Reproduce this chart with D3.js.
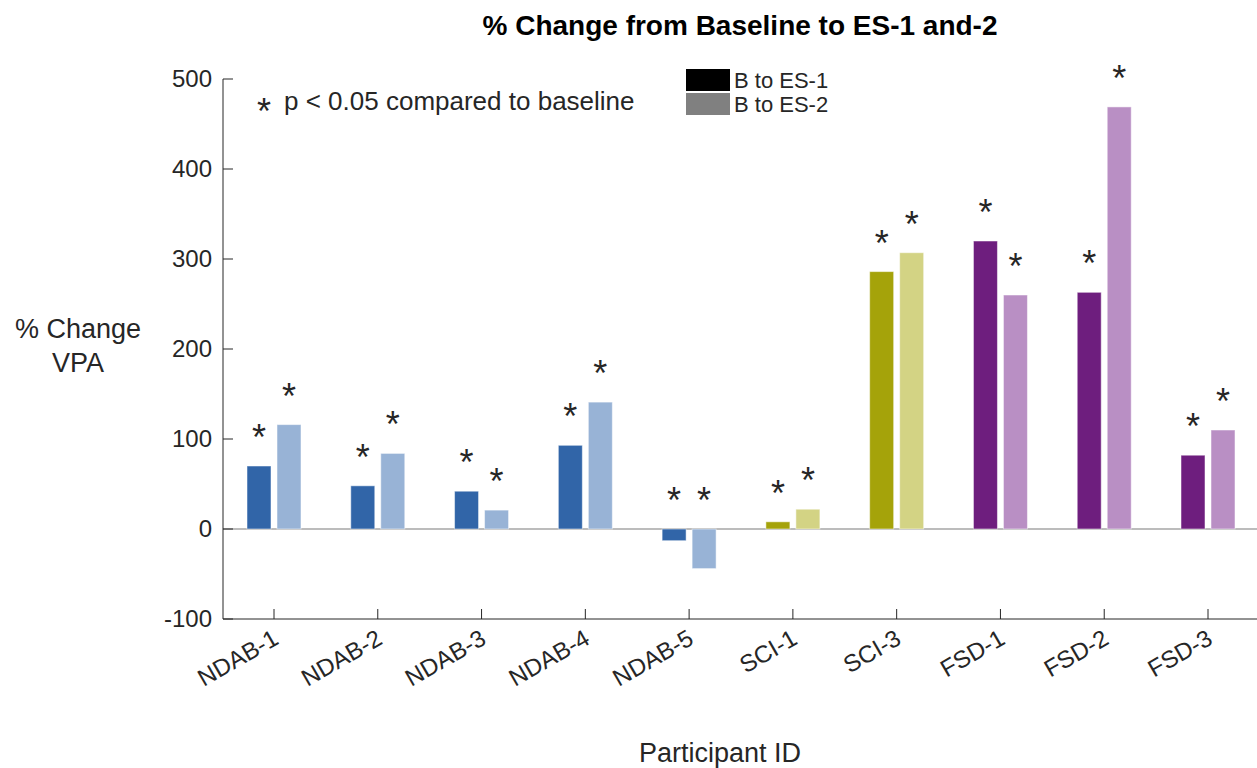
<!DOCTYPE html>
<html>

<head>
  <meta charset="utf-8">
  <title>% Change VPA</title>
  <style>
    body { margin: 0; background: #fff; }
    text { font-family: 'Liberation Sans', Arial, Helvetica, sans-serif; fill: #262626; }
  </style>
</head>

<body>
  <div id='chart'></div>

  <script src="https://d3js.org/d3.v7.min.js"></script>
  <script>
    // data
    let participants = ['NDAB-1', 'NDAB-2', 'NDAB-3', 'NDAB-4', 'NDAB-5', 'SCI-1', 'SCI-3', 'FSD-1', 'FSD-2', 'FSD-3'];
    let es1 = [70, 48, 42, 93, -13, 8, 286, 320, 263, 82];
    let es2 = [116, 84, 21, 141, -44, 22, 307, 260, 469, 110];
    let groups = ['NDAB', 'NDAB', 'NDAB', 'NDAB', 'NDAB', 'SCI', 'SCI', 'FSD', 'FSD', 'FSD'];
    let yTicks = [-100, 0, 100, 200, 300, 400, 500];
    let seriesNames = ['B to ES-1', 'B to ES-2'];

    let colors = {
      NDAB: ['#3165a8', '#98b3d6'],
      SCI: ['#a5a30a', '#d3d384'],
      FSD: ['#6e1e7e', '#b98fc4']
    };

    let svgWidth = 1257;
    let svgHeight = 768;
    let margin = { top: 79, right: 0, bottom: 149, left: 223 };
    let width = svgWidth - margin.left - margin.right;
    let height = svgHeight - margin.top - margin.bottom;

    function translate(x, y) {
      return 'translate(' + x + ',' + y + ')';
    }

    let svg = d3.select('#chart').append('svg')
      .attr('width', svgWidth)
      .attr('height', svgHeight);

    let g = svg.append('g').attr('transform', translate(margin.left, margin.top));

    let x = d3.scalePoint()
      .domain(participants)
      .range([51, 985]);

    let y = d3.scaleLinear()
      .domain([-100, 500])
      .range([height, 0]);

    let barW = 24;
    let off = 15;

    // zero line
    g.append('line')
      .attr('x1', 0).attr('x2', width)
      .attr('y1', y(0)).attr('y2', y(0))
      .attr('stroke', '#a6a6a6')
      .attr('stroke-width', 1.5);

    let rows = participants.map((p, i) => ({ p: p, grp: groups[i], vals: [es1[i], es2[i]] }));

    let bars = [];
    rows.forEach(r => r.vals.forEach((v, k) => bars.push({ p: r.p, grp: r.grp, k: k, v: v })));

    g.selectAll('.bar').data(bars).enter()
      .append('rect')
      .attr('class', 'bar')
      .attr('x', d => x(d.p) + (d.k == 0 ? -off : off) - barW / 2)
      .attr('y', d => y(Math.max(0, d.v)))
      .attr('width', barW)
      .attr('height', d => Math.abs(y(d.v) - y(0)))
      .attr('fill', d => colors[d.grp][d.k])
      .attr('stroke', 'rgba(255,255,255,0.5)')
      .attr('stroke-width', 1);

    // significance stars
    g.selectAll('.star').data(bars).enter()
      .append('text')
      .attr('class', 'star')
      .attr('x', d => x(d.p) + (d.k == 0 ? -off : off))
      .attr('y', d => y(Math.max(0, d.v)) - 16)
      .attr('text-anchor', 'middle')
      .style('font-size', '36px')
      .text('*');

    // axes
    let xAxis = g.append('g')
      .attr('transform', translate(0, height));
    xAxis.append('line')
      .attr('x1', 0).attr('x2', width)
      .attr('stroke', '#262626');
    xAxis.selectAll('.xt').data(participants).enter()
      .append('line')
      .attr('x1', d => x(d)).attr('x2', d => x(d))
      .attr('y1', 0).attr('y2', -10)
      .attr('stroke', '#262626');
    xAxis.selectAll('.xl').data(participants).enter()
      .append('text')
      .attr('transform', d => translate(x(d) + 6, 24) + ' rotate(-30)')
      .attr('text-anchor', 'end')
      .style('font-size', '24px')
      .text(d => d);

    let yAxis = g.append('g');
    yAxis.append('line')
      .attr('y1', 0).attr('y2', height)
      .attr('stroke', '#262626');
    yAxis.selectAll('.yt').data(yTicks).enter()
      .append('line')
      .attr('x1', 0).attr('x2', 10)
      .attr('y1', d => y(d)).attr('y2', d => y(d))
      .attr('stroke', '#262626');
    yAxis.selectAll('.yl').data(yTicks).enter()
      .append('text')
      .attr('x', -11)
      .attr('y', d => y(d))
      .attr('dy', '0.35em')
      .attr('text-anchor', 'end')
      .style('font-size', '24px')
      .text(d => d);

    // title and labels
    svg.append('text')
      .attr('x', 740).attr('y', 35)
      .attr('text-anchor', 'middle')
      .style('font-size', '28px')
      .style('font-weight', 'bold')
      .style('fill', '#000')
      .text('% Change from Baseline to ES-1 and-2');

    let yl = svg.append('text')
      .attr('text-anchor', 'middle')
      .style('font-size', '27px');
    yl.append('tspan').attr('x', 78).attr('y', 338).text('% Change');
    yl.append('tspan').attr('x', 78).attr('y', 372).text('VPA');

    svg.append('text')
      .attr('x', 720).attr('y', 762)
      .attr('text-anchor', 'middle')
      .style('font-size', '27px')
      .text('Participant ID');

    // note
    svg.append('text')
      .attr('x', 264).attr('y', 124)
      .attr('text-anchor', 'middle')
      .style('font-size', '36px')
      .text('*');
    svg.append('text')
      .attr('x', 284).attr('y', 110)
      .style('font-size', '26px')
      .text('p < 0.05 compared to baseline');

    // legend
    let legend = svg.append('g').attr('transform', translate(686, 69));
    legend.selectAll('rect').data(seriesNames).enter()
      .append('rect')
      .attr('x', 0)
      .attr('y', (d, i) => i * 24)
      .attr('width', 44)
      .attr('height', 22)
      .attr('fill', (d, i) => i == 0 ? '#000' : '#808080');
    legend.selectAll('text').data(seriesNames).enter()
      .append('text')
      .attr('x', 48)
      .attr('y', (d, i) => i * 24 + 19)
      .style('font-size', '22px')
      .text(d => d);
  </script>
</body>

</html>
